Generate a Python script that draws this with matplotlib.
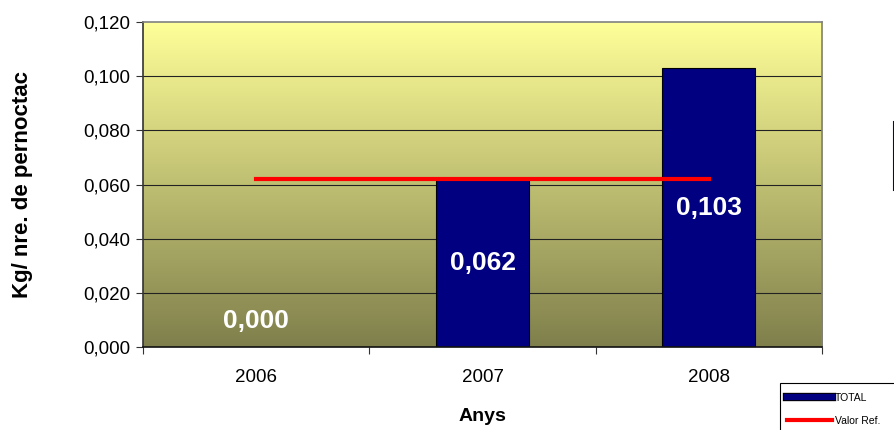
import matplotlib.pyplot as plt
import numpy as np
import matplotlib.patheffects as pe
from matplotlib.colors import LinearSegmentedColormap
from matplotlib.lines import Line2D
from matplotlib.patches import Rectangle

plt.rcParams['font.family'] = ['Liberation Sans', 'DejaVu Sans']

years = ['2006', '2007', '2008']
total = [0.000, 0.062, 0.103]
valor_ref = [0.062, 0.062, 0.062]
yticks = [0.0, 0.02, 0.04, 0.06, 0.08, 0.10, 0.12]

fig = plt.figure(figsize=(8.95, 4.3), dpi=100)
ax = fig.add_axes([0.1598, 0.193, 0.7587, 0.7558])

x = np.arange(len(years))

# gradient background
cmap = LinearSegmentedColormap.from_list('bg', ['#7f7f4c', '#ffff99'])
grad = np.linspace(0, 1, 256).reshape(-1, 1)
ax.imshow(grad, cmap=cmap, origin='lower', extent=[-0.5, 2.5, 0, 0.12],
          aspect='auto', zorder=0)

for t in yticks[1:-1]:
    ax.axhline(t, color='#222222', lw=0.8, zorder=1)

bars = ax.bar(x, total, width=0.41, color='#000080', edgecolor='black', lw=0.8,
              zorder=2)
ref_line, = ax.plot(x, valor_ref, color='#ff0000', lw=3, zorder=3)

for xi, v in zip(x, total):
    ax.text(xi, max(v / 2, 0.0095), ('%.3f' % v).replace('.', ','),
            color='white', fontsize=19, fontweight='bold',
            ha='center', va='center', zorder=4)

ax.set_xlim(-0.5, 2.5)
ax.set_ylim(0, 0.12)
ax.set_yticks(yticks)
ax.set_yticklabels([('%.3f' % t).replace('.', ',') for t in yticks], fontsize=13.5)
ax.set_xticks([-0.5, 0.5, 1.5, 2.5])
ax.set_xticklabels([])
ax.set_xticks(x, minor=True)
ax.set_xticklabels(years, minor=True, fontsize=13.5)
ax.tick_params(axis='x', which='minor', length=0, pad=16)
ax.tick_params(axis='x', which='major', length=5, color='#333333')
ax.tick_params(axis='y', length=5, color='#333333', pad=4)

ax.spines['left'].set_color('#333333')
ax.spines['bottom'].set_color('#111111')
ax.spines['top'].set_color('#808080')
ax.spines['right'].set_color('#808080')
for s in ax.spines.values():
    s.set_linewidth(1.2)

ax.set_xlabel('Anys', fontsize=14, fontweight='bold', va='center')
ax.xaxis.set_label_coords(0.5, -0.215)
ax.set_ylabel('Kg/ nre. de pernoctac', fontsize=16, fontweight='bold', va='center')
ax.yaxis.set_label_coords(-0.178, 0.5)

# legend box, clipped by the figure edge as in the original
fig.add_artist(Rectangle((780 / 895, -0.02), 0.2, (430 - 383) / 430 + 0.02,
                         transform=fig.transFigure, facecolor='white',
                         edgecolor='black', lw=0.8))
total_handle = Line2D([], [], color='#000080', lw=4.5)
total_handle.set_path_effects([pe.Stroke(linewidth=6, foreground='black'), pe.Normal()])
leg = fig.legend([total_handle, ref_line], ['TOTAL', 'Valor Ref.'],
                 loc='upper left', bbox_to_anchor=(787 / 895, 1 - 393 / 430),
                 fontsize=7.5, frameon=False,
                 handlelength=4.3, borderaxespad=0, handletextpad=0.3,
                 labelspacing=1.2, borderpad=0)

# clipped second legend at right edge
fig.add_artist(Line2D([0.9985, 0.9985], [1 - 122 / 430, 1 - 155 / 430],
                      color='#000080', lw=1.5))
fig.add_artist(Line2D([0.9985, 0.9985], [1 - 157 / 430, 1 - 190 / 430],
                      color='#000080', lw=1.5))

fig.savefig('out.png', dpi=100)
